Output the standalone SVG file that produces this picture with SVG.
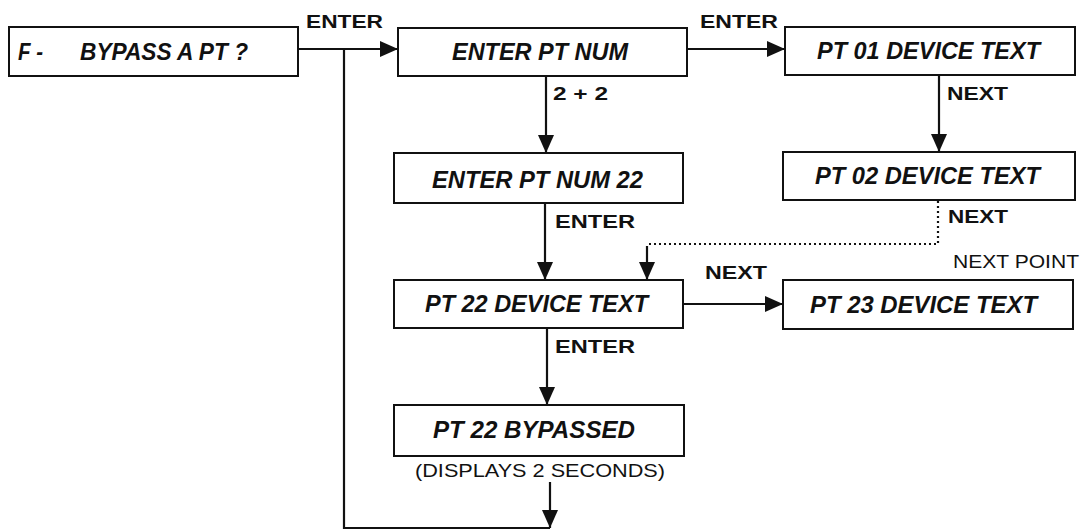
<svg xmlns="http://www.w3.org/2000/svg" width="1086" height="531" viewBox="0 0 1086 531">
<defs>
<style>
.box{fill:#fff;stroke:#111;stroke-width:2}
.bt{font-family:"Liberation Sans",Arial,sans-serif;font-weight:bold;font-style:italic;font-size:23px;fill:#111}
.lb{font-family:"Liberation Sans",Arial,sans-serif;font-weight:bold;font-size:19px;fill:#111}
.rg{font-family:"Liberation Sans",Arial,sans-serif;font-size:19px;fill:#111}
.ln{fill:none;stroke:#111;stroke-width:2.2}
.dot{fill:none;stroke:#111;stroke-width:2.2;stroke-dasharray:2 3}
</style>
<marker id="ah" markerUnits="userSpaceOnUse" markerWidth="18" markerHeight="16" refX="18" refY="8" orient="auto">
<path d="M0,0 L18,8 L0,16 z" fill="#111"/>
</marker>
</defs>
<rect width="1086" height="531" fill="#fff"/>
<g id="connectors">
<line class="ln" x1="298" y1="49" x2="398" y2="49" marker-end="url(#ah)"/>
<polyline class="ln" points="344,49 344,528 550,528"/>
<line class="ln" x1="687" y1="49" x2="785" y2="49" marker-end="url(#ah)"/>
<line class="ln" x1="939" y1="75" x2="939" y2="152" marker-end="url(#ah)"/>
<line class="ln" x1="546" y1="76" x2="546" y2="153" marker-end="url(#ah)"/>
<line class="ln" x1="545" y1="203" x2="545" y2="280" marker-end="url(#ah)"/>
<polyline class="dot" points="938,201 938,244 647,244"/>
<line class="ln" x1="647" y1="246" x2="647" y2="280" marker-end="url(#ah)"/>
<line class="ln" x1="683" y1="304" x2="783" y2="304" marker-end="url(#ah)"/>
<line class="ln" x1="547" y1="328" x2="547" y2="405" marker-end="url(#ah)"/>
<line class="ln" x1="550" y1="482" x2="550" y2="528" marker-end="url(#ah)"/>
<text class="lb" x="306" y="28" textLength="77" lengthAdjust="spacingAndGlyphs">ENTER</text>
<text class="lb" x="700" y="28" textLength="78" lengthAdjust="spacingAndGlyphs">ENTER</text>
<text class="lb" x="947" y="100" textLength="61" lengthAdjust="spacingAndGlyphs">NEXT</text>
<text class="lb" x="553" y="100" textLength="55" lengthAdjust="spacingAndGlyphs">2 + 2</text>
<text class="lb" x="555" y="228" textLength="80" lengthAdjust="spacingAndGlyphs">ENTER</text>
<text class="lb" x="948" y="223" textLength="60" lengthAdjust="spacingAndGlyphs">NEXT</text>
<text class="rg" x="953" y="268" textLength="126" lengthAdjust="spacingAndGlyphs">NEXT POINT</text>
<text class="lb" x="705" y="279" textLength="62" lengthAdjust="spacingAndGlyphs">NEXT</text>
<text class="lb" x="555" y="353" textLength="80" lengthAdjust="spacingAndGlyphs">ENTER</text>
<text class="rg" x="415" y="477" textLength="250" lengthAdjust="spacingAndGlyphs">(DISPLAYS 2 SECONDS)</text>
</g>
<g id="n1">
<rect class="box" x="9" y="27" width="289" height="49"/>
<text class="bt" y="60"><tspan x="18" textLength="25" lengthAdjust="spacingAndGlyphs">F -</tspan><tspan x="80" textLength="168" lengthAdjust="spacingAndGlyphs">BYPASS A PT ?</tspan></text>
</g>
<g id="n2">
<rect class="box" x="398" y="28" width="289" height="48"/>
<text class="bt" x="452" y="60" textLength="176" lengthAdjust="spacingAndGlyphs">ENTER PT NUM</text>
</g>
<g id="n3">
<rect class="box" x="785" y="27" width="290" height="48"/>
<text class="bt" x="817" y="59" textLength="223" lengthAdjust="spacingAndGlyphs">PT 01 DEVICE TEXT</text>
</g>
<g id="n4">
<rect class="box" x="783" y="152" width="292" height="48"/>
<text class="bt" x="815" y="184" textLength="225" lengthAdjust="spacingAndGlyphs">PT 02 DEVICE TEXT</text>
</g>
<g id="n5">
<rect class="box" x="394" y="153" width="289" height="50"/>
<text class="bt" x="432" y="188" textLength="211" lengthAdjust="spacingAndGlyphs">ENTER PT NUM 22</text>
</g>
<g id="n6">
<rect class="box" x="394" y="280" width="289" height="48"/>
<text class="bt" x="425" y="312" textLength="223" lengthAdjust="spacingAndGlyphs">PT 22 DEVICE TEXT</text>
</g>
<g id="n7">
<rect class="box" x="783" y="280" width="290" height="49"/>
<text class="bt" x="810" y="313" textLength="227" lengthAdjust="spacingAndGlyphs">PT 23 DEVICE TEXT</text>
</g>
<g id="n8">
<rect class="box" x="394" y="405" width="290" height="51"/>
<text class="bt" x="433" y="438" textLength="202" lengthAdjust="spacingAndGlyphs">PT 22 BYPASSED</text>
</g>
</svg>
